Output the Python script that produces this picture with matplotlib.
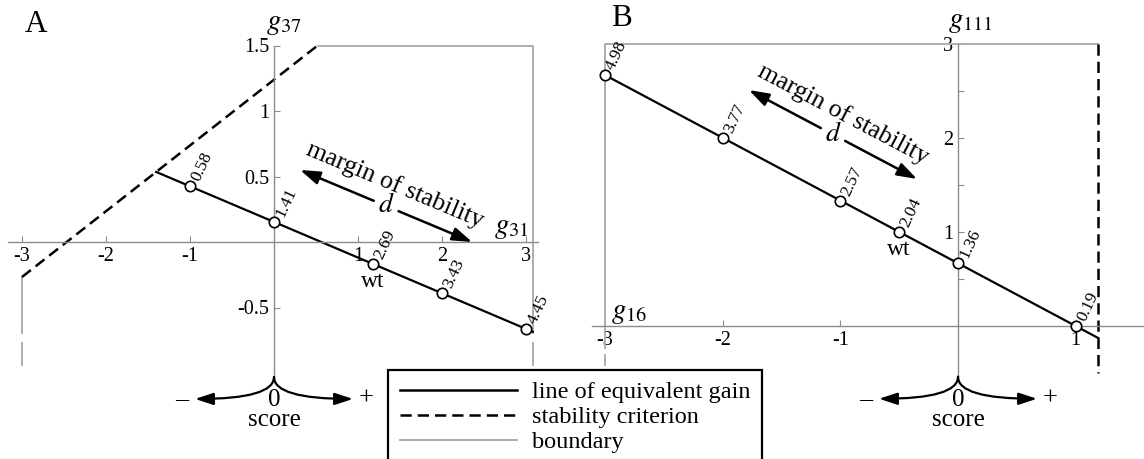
import math
import matplotlib.pyplot as plt
from matplotlib.lines import Line2D
from matplotlib.patches import Rectangle

plt.rcParams['font.family'] = 'serif'
plt.rcParams['font.serif'] = ['Liberation Serif', 'DejaVu Serif']
plt.rcParams['mathtext.fontset'] = 'stix'

W, H = 1144, 459

# ---- panel A: g31 (x) against g37 (y)
a_xticks = [-3, -2, -1, 1, 2, 3]
a_yticks = [-0.5, 0.5, 1, 1.5]
a_gain_x = [-1.403, 3.08]
a_gain_y = [0.535, -0.685]
a_pt_x = [-1, 0, 1.18, 2, 3]
a_pt_y = [0.425, 0.153, -0.168, -0.391, -0.663]
a_pt_lab = ['0.58', '1.41', '2.69', '3.43', '4.45']
a_wt = 2
a_stab_x = [-3.0, 0.52]
a_stab_y = [-0.267, 1.5]
a_box = (-3.0, 3.08, 1.5)           # g31 min, g31 max, g37 max
a_cut = [-0.695, -0.77, -0.94]      # solid edge end, dashed continuation
a_margin = [(0.31, 0.55), (2.36, 0.0)]

# ---- panel B: g16 (x) against g111 (y)
b_xticks = [-3, -2, -1, 1]
b_yticks = [1, 2, 3]
b_gain_x = [-3.0, 1.19]
b_gain_y = [2.67, -0.127]
b_pt_x = [-3, -2, -1, -0.5, 0, 1]
b_pt_y = [2.67, 2.0, 1.335, 1.0, 0.6675, 0.0]
b_pt_lab = ['4.98', '3.77', '2.57', '2.04', '1.36', '0.19']
b_wt = 3
b_stab_x = [1.19, 1.19]
b_stab_y = [3.0, -0.5]
b_box = (-3.0, 1.19, 3.0)
b_cut = [-0.234, -0.31, -0.415]
b_margin = [(-1.776, 2.51), (-0.348, 1.564)]

legend_labels = ['line of equivalent gain', 'stability criterion', 'boundary']

AXC = '0.55'
BND = '0.68'
DASH = (4.5, 2.4)

fig = plt.figure(figsize=(W / 100, H / 100), dpi=100)


def fpx(x, y):
    return x / W, 1 - y / H


def panel(px0, px1, ox, oy, sx, sy, xb, yb, xt, yt):
    ax = fig.add_axes([px0 / W, 0, (px1 - px0) / W, 1])
    ax.set_xlim((px0 - ox) / sx, (px1 - ox) / sx)
    ax.set_ylim((oy - H) / sy, oy / sy)
    ax.patch.set_alpha(0)
    ax.spines[['top', 'right']].set_visible(False)
    for side, b in (('left', yb), ('bottom', xb)):
        sp = ax.spines[side]
        sp.set_position(('data', 0))
        sp.set_color(AXC)
        sp.set_linewidth(1.0)
        sp.set_bounds(*b)
    ax.set_xticks(xt, labels=[f'{v:g}' for v in xt])
    ax.set_yticks(yt, labels=[f'{v:g}' for v in yt])
    ax.tick_params(direction='in', length=4, width=0.8, color=AXC,
                   labelsize=14.5, pad=3.5)
    return ax


def points(ax, xs, ys, labs, wt):
    ax.plot(xs, ys, 'o', ms=7.5, mfc='white', mec='k', mew=1.2, zorder=5,
            clip_on=False)
    for x, y, lab in zip(xs, ys, labs):
        ax.annotate(lab, (x, y), xytext=(4, 4), textcoords='offset points',
                    rotation=65, rotation_mode='anchor', ha='left',
                    va='center', fontsize=12.5)
    ax.annotate('wt', (xs[wt], ys[wt]), xytext=(0, -5),
                textcoords='offset points', ha='center', va='top',
                fontsize=17)


def margin(ax, tips, gap=0.072, off=16.5):
    (x1, y1), (x2, y2) = tips
    xm, ym = (x1 + x2) / 2, (y1 + y2) / 2
    p1 = ax.transData.transform((x1, y1))
    p2 = ax.transData.transform((x2, y2))
    ang = math.degrees(math.atan2(p2[1] - p1[1], p2[0] - p1[0]))
    for (xt, yt), s in (((x1, y1), -1), ((x2, y2), 1)):
        xs = xm + s * gap * (x2 - x1)
        ys = ym + s * gap * (y2 - y1)
        ax.annotate('', xy=(xt, yt), xytext=(xs, ys),
                    arrowprops=dict(arrowstyle='-|>,head_length=0.6,head_width=0.2',
                                    mutation_scale=20, lw=1.8, color='k',
                                    shrinkA=0, shrinkB=0))
    ax.text(xm, ym, '$d$', fontsize=20, ha='center', va='center')
    r = math.radians(ang)
    ax.annotate('margin of stability', (xm, ym),
                xytext=(-off * math.sin(r), off * math.cos(r)),
                textcoords='offset points', rotation=ang,
                rotation_mode='anchor', ha='center', va='center', fontsize=18.5)


def score(ax, ybot):
    cx, cy = ax.transData.transform((0, ybot))
    for s, sym in ((-1, '\u2013'), (1, '+')):
        ax.annotate('', xy=(cx + s * 79, cy - 22), xytext=(cx, cy),
                    xycoords='figure pixels', textcoords='figure pixels',
                    arrowprops=dict(arrowstyle='-|>,head_length=0.55,head_width=0.18',
                                    mutation_scale=20, lw=1.6, color='k',
                                    shrinkA=0, shrinkB=0,
                                    connectionstyle='angle3,angleA=90,angleB=0'))
        ax.annotate(sym, (cx + s * 92, cy - 22), xycoords='figure pixels',
                    ha='center', va='center', fontsize=19)
    ax.annotate('0', (cx, cy - 23), xycoords='figure pixels',
                ha='center', va='center', fontsize=18)
    ax.annotate('score', (cx, cy - 43), xycoords='figure pixels',
                ha='center', va='center', fontsize=18)


# ---------------- panel A
axA = panel(0, 560, 274, 242, 84, 131, (-3.167, 3.143), (-1.03, 1.5),
            a_xticks, a_yticks)
g0, g1, top = a_box
axA.plot([a_stab_x[1], g1, g1], [top, top, a_cut[0]], color=BND, lw=1.4)
axA.plot([g0, g0], [a_stab_y[0], a_cut[0]], color=BND, lw=1.4)
for gx in (g0, g1):
    axA.plot([gx, gx], a_cut[1:], color=BND, lw=1.4)
axA.plot(a_stab_x, a_stab_y, color='k', lw=1.8, dashes=DASH)
axA.plot(a_gain_x, a_gain_y, color='k', lw=1.6)
points(axA, a_pt_x, a_pt_y, a_pt_lab, a_wt)
margin(axA, a_margin)
score(axA, -1.03)

# ---------------- panel B
axB = panel(560, W, 958, 326, 117.7, 94, (-3.11, 1.6), (-0.54, 3.0),
            b_xticks, b_yticks)
axB.set_yticks([0.5, 1.5, 2.5], minor=True)
axB.tick_params(which='minor', direction='in', length=4, width=0.8, color=AXC)
g0, g1, top = b_box
axB.plot([g1, g0, g0], [top, top, b_cut[0]], color=BND, lw=1.4)
axB.plot([g0, g0], b_cut[1:], color=BND, lw=1.4)
axB.plot(b_stab_x, b_stab_y, color='k', lw=1.8, dashes=DASH)
axB.plot(b_gain_x, b_gain_y, color='k', lw=1.6)
points(axB, b_pt_x, b_pt_y, b_pt_lab, b_wt)
margin(axB, b_margin)
score(axB, -0.54)

# ---------------- axis names and panel letters
fig.text(*fpx(36, 25), 'A', fontsize=22.5, ha='center', va='center')
fig.text(*fpx(622, 18), 'B', fontsize=22.5, ha='center', va='center')
fig.text(*fpx(284, 24), '$g_{37}$', fontsize=21, ha='center', va='center')
fig.text(*fpx(511, 228), '$g_{31}$', fontsize=21, ha='center', va='center')
fig.text(*fpx(971, 22), '$g_{111}$', fontsize=21, ha='center', va='center')
fig.text(*fpx(629, 313), '$g_{16}$', fontsize=21, ha='center', va='center')

# ---------------- legend
handles = [Line2D([], [], color='k', lw=1.8),
           Line2D([], [], color='k', lw=1.8, dashes=DASH),
           Line2D([], [], color=BND, lw=1.4)]
fig.legend(handles, legend_labels, loc='upper left',
           bbox_to_anchor=fpx(400, 381), frameon=False, fontsize=17.5,
           handlelength=4.8, handletextpad=0.62, labelspacing=0.13,
           borderpad=0, borderaxespad=0)
x0, y0 = fpx(388, 370)
fig.add_artist(Rectangle((x0, -0.05), (762 - 388) / W, y0 + 0.05,
                         transform=fig.transFigure, fill=False, ec='k', lw=1.6))

fig.savefig('out.png', dpi=100)
